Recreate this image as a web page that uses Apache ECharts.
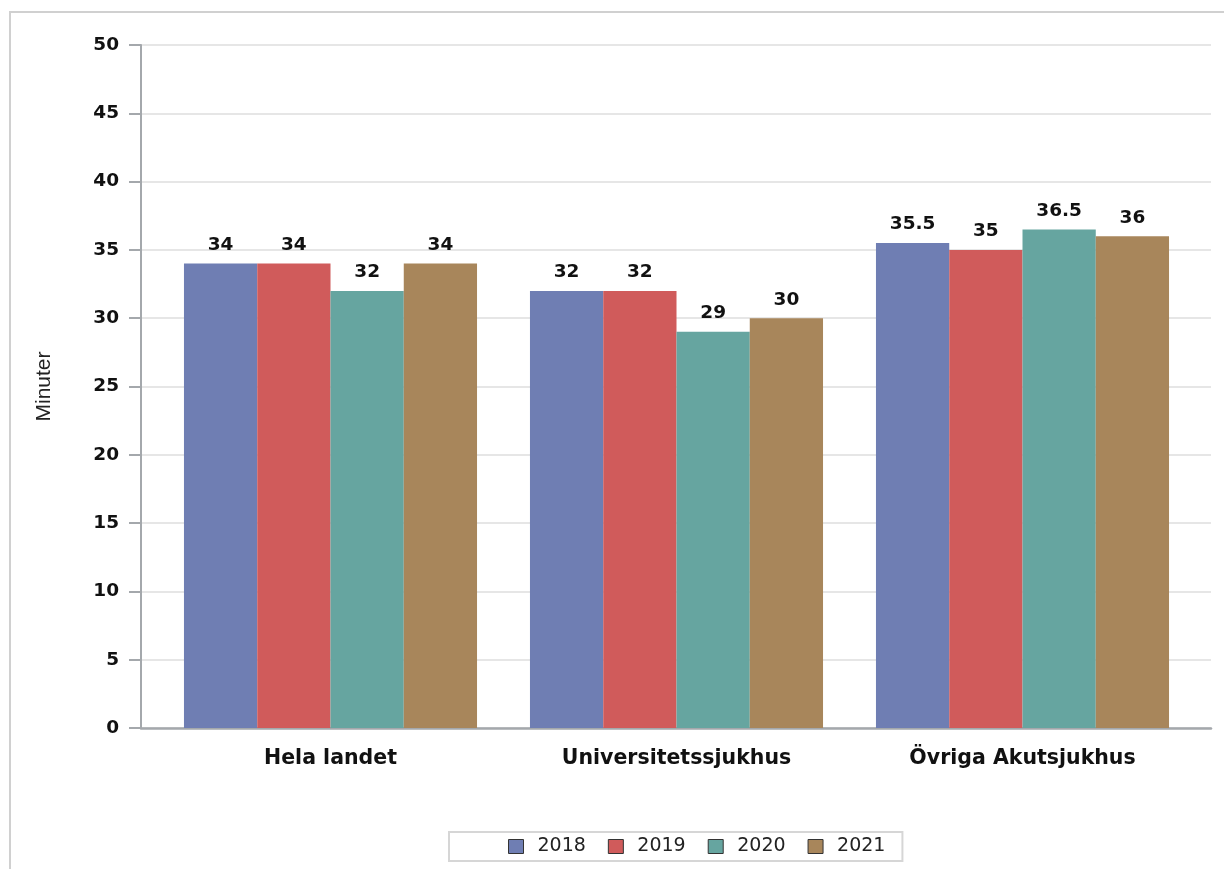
<!DOCTYPE html>
<html>
<head>
<meta charset="utf-8">
<script src="https://cdn.jsdelivr.net/npm/echarts@6/dist/echarts.min.js"></script>
<style>
  html, body { margin: 0; padding: 0; background: #fff; }
  #main { width: 1224px; height: 869px; }
</style>
</head>
<body>
<div id="main"></div>
<script>
const categories = ["Hela landet", "Universitetssjukhus", "Övriga Akutsjukhus"];
const years = ["2018", "2019", "2020", "2021"];
const values2018 = [34, 32, 35.5];
const values2019 = [34, 32, 35];
const values2020 = [32, 29, 36.5];
const values2021 = [34, 30, 36];
const colors = ["#6F7EB3", "#D05B5B", "#66A5A0", "#A8865B"];

const seriesValues = [values2018, values2019, values2020, values2021];
const boldFont = "'DejaVu Sans', sans-serif";
const plainFont = "'Liberation Sans', Arial, sans-serif";
const axisGray = "#a4a8ac";

const chart = echarts.init(document.getElementById("main"), null, { renderer: "canvas" });

const option = {
  animation: false,
  graphic: [
    {
      type: "rect",
      shape: { x: 10, y: 12, width: 1240, height: 900 },
      style: { fill: "none", stroke: "#d0d0d0", lineWidth: 2 },
      silent: true,
      z: -1
    }
  ],
  // grid 0: frame, y axis and gridlines; grid 1: the bars (inset like the original)
  grid: [
    { left: 141, right: 13, top: 45, bottom: 141 },
    { left: 157.5, right: 28.5, top: 45, bottom: 141 }
  ],
  legend: {
    data: years,
    left: 449,
    top: 832,
    borderColor: "#d6d6d6",
    borderWidth: 2,
    padding: [5, 17, 5, 59],
    itemWidth: 15,
    itemHeight: 14,
    itemGap: 22,
    icon: "rect",
    itemStyle: { borderColor: "#333", borderWidth: 1 },
    textStyle: { fontSize: 19, color: "#222", fontFamily: boldFont, padding: [0, 0, 0, 9] }
  },
  xAxis: [
    {
      type: "category",
      gridIndex: 0,
      data: categories,
      axisLine: { lineStyle: { color: axisGray, width: 2.5 } },
      axisTick: { show: false },
      axisLabel: { show: false }
    },
    {
      type: "category",
      gridIndex: 1,
      data: categories,
      axisLine: { show: false },
      axisTick: { show: false },
      axisLabel: { fontSize: 20.5, fontWeight: "bold", color: "#111", margin: 20, fontFamily: boldFont }
    }
  ],
  yAxis: [
    {
      type: "value",
      gridIndex: 0,
      min: 0,
      max: 50,
      interval: 5,
      name: "Minuter",
      nameLocation: "middle",
      nameGap: 86,
      nameRotate: 90,
      nameTextStyle: { fontSize: 21, color: "#222", fontFamily: plainFont },
      axisLine: { show: true, lineStyle: { color: axisGray, width: 2 } },
      axisTick: { show: true, length: 12, lineStyle: { color: axisGray, width: 2 } },
      axisLabel: { fontSize: 18.5, fontWeight: "bold", color: "#111", margin: 22, fontFamily: boldFont },
      splitLine: { lineStyle: { color: "#e6e6e6", width: 2 } }
    },
    {
      type: "value",
      gridIndex: 1,
      min: 0,
      max: 50,
      interval: 5,
      show: false,
      splitLine: { show: false }
    }
  ],
  series: years.map((y, i) => ({
    name: y,
    type: "bar",
    xAxisIndex: 1,
    yAxisIndex: 1,
    data: seriesValues[i],
    barGap: "0%",
    barCategoryGap: "15.3%",
    itemStyle: { color: colors[i] },
    label: {
      show: true,
      position: "top",
      distance: 9,
      fontSize: 18.5,
      fontWeight: "bold",
      color: "#111",
      fontFamily: boldFont
    }
  }))
};

chart.setOption(option);
</script>
</body>
</html>
